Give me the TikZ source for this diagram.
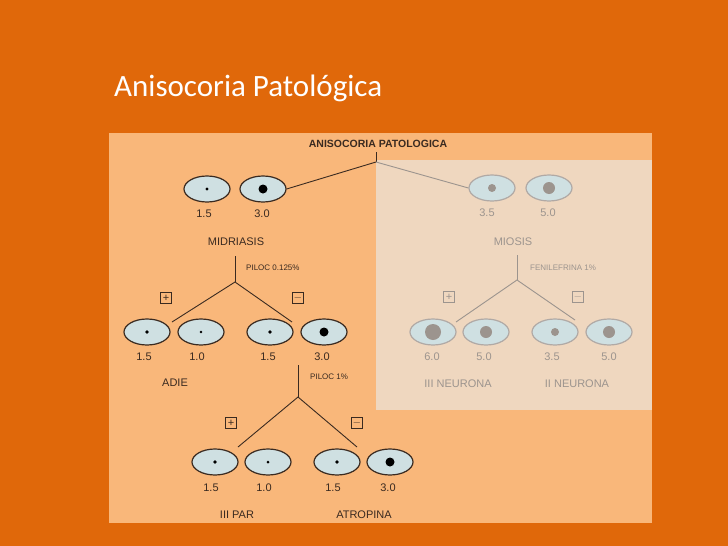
\documentclass[tikz,border=0pt]{standalone}
\usepackage{fontspec}
\setmainfont{Liberation Sans}
\newfontfamily\titlefont{Carlito}
\definecolor{bgor}{HTML}{E0680A}
\definecolor{figbg}{HTML}{F9B77A}
\definecolor{panel}{HTML}{EFD7BF}
\definecolor{eyefill}{HTML}{CFE0E2}
\definecolor{ink}{HTML}{3A2A20}
\definecolor{faint}{HTML}{9C948E}
\begin{document}
\begin{tikzpicture}[x=1pt,y=-1pt,
  txt/.style={font=\fontsize{11}{12}\selectfont, text=ink, inner sep=0pt},
  ftxt/.style={txt, text=faint},
  lbl/.style={font=\fontsize{8}{9}\selectfont, text=ink, inner sep=0pt, anchor=west},
  flbl/.style={lbl, text=faint},
  eye/.style={ellipse, minimum width=46pt, minimum height=26pt, draw=ink, line width=1.2pt, fill=eyefill, inner sep=0pt},
  feye/.style={eye, draw=faint!80},
  conn/.style={draw=ink, line width=0.9pt},
  fconn/.style={draw=faint, line width=0.9pt},
  sbox/.style={draw=ink, line width=0.8pt, minimum size=11pt, inner sep=0pt, font=\fontsize{11}{11}\selectfont, text=ink},
  fsbox/.style={sbox, draw=faint, text=faint}]
\usetikzlibrary{shapes.geometric}
\fill[bgor] (0,0) rectangle (728,546);
\useasboundingbox (0,0) rectangle (728,546);
\node[anchor=west, text=white, font=\titlefont\fontsize{31}{34}\selectfont, inner sep=0pt] (title) at (114,88) {Anisocoria Patológica};
\fill[figbg] (109,133) rectangle (652,523);
\fill[panel] (376,160) rectangle (652,410);
\node[txt, font=\bfseries\fontsize{10.5}{12}\selectfont] (head) at (378,144) {ANISOCORIA PATOLOGICA};
\coordinate (root) at (376,162);
\draw[conn] (376,152) -- (root);
% midriasis
\node[eye] (m1) at (207,189) {}; \fill[black] (m1) circle (1.6);
\node[eye] (m2) at (263,189) {}; \fill[black] (m2) circle (4.5);
\draw[conn] (root) -- (m2.east);
\node[txt] (m1l) at (204,214) {1.5};
\node[txt] (m2l) at (262,214) {3.0};
\node[txt] (mid) at (236,242) {MIDRIASIS};
\coordinate (b1) at (235,282);
\draw[conn] (235,256) -- (b1);
\node[lbl] (p1) at (246,268) {PILOC 0.125\%};
\coordinate (b1l) at (172,322); \coordinate (b1r) at (292,322);
\draw[conn] (b1l) -- (b1) -- (b1r);
\node[sbox] (plus1) at (166,298) {+};
\node[sbox] (minus1) at (298,298) {$-$};
\node[eye] (a1) at (147,332) {}; \fill[black] (a1) circle (1.8);
\node[eye] (a2) at (201,332) {}; \fill[black] (a2) circle (1.3);
\node[eye] (a3) at (270,332) {}; \fill[black] (a3) circle (1.8);
\node[eye] (a4) at (324,332) {}; \fill[black] (a4) circle (4.5);
\node[txt] at (144,357) {1.5}; \node[txt] at (197,357) {1.0};
\node[txt] at (268,357) {1.5}; \node[txt] at (322,357) {3.0};
\node[txt] (adie) at (175,383) {ADIE};
\coordinate (b2) at (298,397);
\draw[conn] (298,365) -- (b2);
\node[lbl] (p2) at (310,377) {PILOC 1\%};
\coordinate (b2l) at (238,447); \coordinate (b2r) at (357,447);
\draw[conn] (b2l) -- (b2) -- (b2r);
\node[sbox] (plus2) at (231,423) {+};
\node[sbox] (minus2) at (357,423) {$-$};
\node[eye] (c1) at (215,462) {}; \fill[black] (c1) circle (1.8);
\node[eye] (c2) at (268,462) {}; \fill[black] (c2) circle (1.5);
\node[eye] (c3) at (337,462) {}; \fill[black] (c3) circle (1.8);
\node[eye] (c4) at (390,462) {}; \fill[black] (c4) circle (4.5);
\node[txt] at (211,488) {1.5}; \node[txt] at (264,488) {1.0};
\node[txt] at (333,488) {1.5}; \node[txt] at (388,488) {3.0};
\node[txt] (par) at (237,515) {III PAR};
\node[txt] (atr) at (364,515) {ATROPINA};
% miosis (faded)
\node[feye] (r1) at (492,188) {}; \fill[faint] (r1) circle (4);
\node[feye] (r2) at (549,188) {}; \fill[faint] (r2) circle (6);
\draw[fconn] (root) -- (r1.west);
\node[ftxt] at (487,213) {3.5}; \node[ftxt] at (548,213) {5.0};
\node[ftxt] (mio) at (513,242) {MIOSIS};
\coordinate (b3) at (517,280);
\draw[fconn] (517,255) -- (b3);
\node[flbl] (p3) at (530,268) {FENILEFRINA 1\%};
\coordinate (b3l) at (456,322); \coordinate (b3r) at (575,320);
\draw[fconn] (b3l) -- (b3) -- (b3r);
\node[fsbox] (plus3) at (449,297) {+};
\node[fsbox] (minus3) at (578,297) {$-$};
\node[feye] (n1) at (433,332) {}; \fill[faint] (n1) circle (8);
\node[feye] (n2) at (486,332) {}; \fill[faint] (n2) circle (6);
\node[feye] (n3) at (555,332) {}; \fill[faint] (n3) circle (4);
\node[feye] (n4) at (609,332) {}; \fill[faint] (n4) circle (6);
\node[ftxt] at (432,357) {6.0}; \node[ftxt] at (484,357) {5.0};
\node[ftxt] at (552,357) {3.5}; \node[ftxt] at (609,357) {5.0};
\node[ftxt] (n3n) at (458,384) {III NEURONA};
\node[ftxt] (n2n) at (577,384) {II NEURONA};
\end{tikzpicture}
\end{document}
